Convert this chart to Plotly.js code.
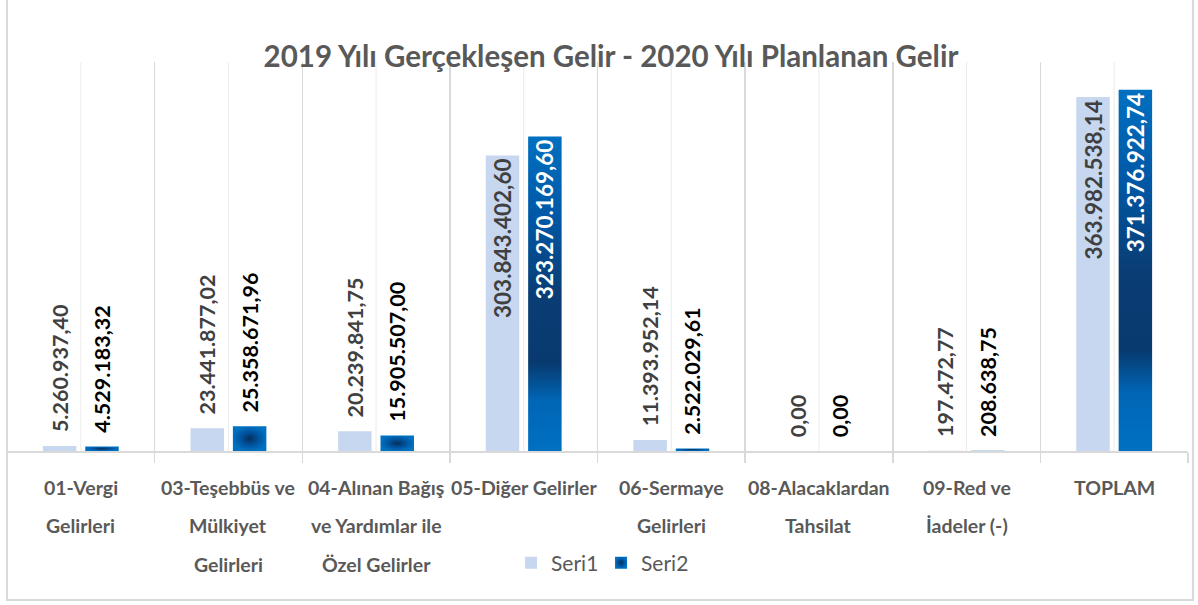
<!DOCTYPE html>
<html>
<head>
<meta charset="utf-8">
<script src="https://cdn.plot.ly/plotly-3.0.1.min.js"></script>
<style>
  html, body { margin: 0; padding: 0; background: #ffffff; }
  #wrap { position: relative; width: 1198px; height: 605px; overflow: hidden; }
  #chart { width: 1198px; height: 605px; }
  #frame { position: absolute; left: 6px; top: -10px; width: 1188px; height: 611px;
           box-sizing: border-box; border: 2px solid #d9d9d9; pointer-events: none; }
</style>
</head>
<body>
<div id="wrap">
  <div id="chart"></div>
  <div id="frame"></div>
</div>
<script>
// ---- data ----
const categories = [
  "01-Vergi Gelirleri",
  "03-Teşebbüs ve Mülkiyet Gelirleri",
  "04-Alınan Bağış ve Yardımlar ile Özel Gelirler",
  "05-Diğer Gelirler",
  "06-Sermaye Gelirleri",
  "08-Alacaklardan Tahsilat",
  "09-Red ve İadeler (-)",
  "TOPLAM"
];
const categoryLines = [
  ["01-Vergi", "Gelirleri"],
  ["03-Teşebbüs ve", "Mülkiyet", "Gelirleri"],
  ["04-Alınan Bağış", "ve Yardımlar ile", "Özel Gelirler"],
  ["05-Diğer Gelirler"],
  ["06-Sermaye", "Gelirleri"],
  ["08-Alacaklardan", "Tahsilat"],
  ["09-Red ve", "İadeler (-)"],
  ["TOPLAM"]
];
const seriesNames = ["Seri1", "Seri2"];
const seri1 = [5260937.40, 23441877.02, 20239841.75, 303843402.60, 11393952.14, 0.00, 197472.77, 363982538.14];
const seri2 = [4529183.32, 25358671.96, 15905507.00, 323270169.60, 2522029.61, 0.00, 208638.75, 371376922.74];
const chartTitle = "2019 Yılı Gerçekleşen Gelir - 2020 Yılı Planlanan Gelir";

// ---- chart ----
const FONT = "Lato, 'Open Sans', sans-serif";
const Y_MAX = 400000000;
const INSIDE_MIN = 100000000;

function positions(vals) {
  return vals.map(v => v >= INSIDE_MIN ? "inside" : "outside");
}
function templates(vals) {
  // outside labels sit a little above the bar end
  return vals.map(v => v >= INSIDE_MIN ? "%{y:,.2f}" : "\u2002%{y:,.2f}");
}

const traceCommon = {
  type: "bar",
  x: categories,
  textangle: -90,
  insidetextanchor: "end",
  constraintext: "none",
  cliponaxis: false,
  hoverinfo: "skip"
};

const t1 = Object.assign({}, traceCommon, {
  name: seriesNames[0],
  y: seri1,
  texttemplate: templates(seri1),
  textposition: positions(seri1),
  marker: { color: "#c6d7ef", line: { width: 0 } },
  insidetextfont: { family: FONT, size: 22.5, color: "#404040", weight: 700 },
  outsidetextfont: { family: FONT, size: 21.5, color: "#404040", weight: 700 }
});
const t2 = Object.assign({}, traceCommon, {
  name: seriesNames[1],
  y: seri2,
  texttemplate: templates(seri2),
  textposition: positions(seri2),
  marker: { color: "#0070c0", line: { width: 0 } },
  insidetextfont: { family: FONT, size: 22.5, color: "#ffffff", weight: 700 },
  outsidetextfont: { family: FONT, size: 21.5, color: "#000000", weight: 700 }
});

const PLOT_TOP = 62, PLOT_BOTTOM = 451;
const plotH = PLOT_BOTTOM - PLOT_TOP;
const lineY0 = 487, lineStep = 38.5;

const annotations = [];
categoryLines.forEach((lines, i) => {
  lines.forEach((ln, j) => {
    annotations.push({
      x: categories[i], xref: "x",
      y: (PLOT_BOTTOM - (lineY0 + j * lineStep)) / plotH, yref: "paper",
      yanchor: "middle", xanchor: "center",
      text: ln, showarrow: false,
      font: { family: FONT, size: 19.5, color: "#595959", weight: 700 }
    });
  });
});

const shapes = categories.map(c => ({
  type: "line", xref: "x", yref: "paper",
  x0: c, x1: c, y0: 0, y1: 1,
  line: { color: "#ebebeb", width: 1 },
  layer: "below"
}));

const layout = {
  width: 1198, height: 605,
  paper_bgcolor: "#ffffff", plot_bgcolor: "#ffffff",
  margin: { l: 7, r: 10, t: PLOT_TOP, b: 605 - PLOT_BOTTOM, pad: 0 },
  separators: ",.",
  font: { family: FONT, color: "#595959" },
  title: {
    text: chartTitle,
    font: { family: FONT, size: 29.5, color: "#595959", weight: 700 },
    xref: "container", x: 0.51, xanchor: "center",
    yref: "container", y: 1 - 57 / 605, yanchor: "middle"
  },
  barmode: "group",
  bargap: 0.426,
  bargroupgap: 0.21,
  showlegend: true,
  legend: {
    orientation: "h", x: 0.503, xanchor: "center",
    y: (PLOT_BOTTOM - 563) / plotH, yanchor: "middle",
    font: { family: FONT, size: 21, color: "#595959" },
    entrywidth: 45, entrywidthmode: "pixels",
    bgcolor: "rgba(0,0,0,0)"
  },
  xaxis: {
    type: "category",
    categoryorder: "array", categoryarray: categories,
    range: [-0.5, categories.length - 0.5],
    tickson: "boundaries",
    ticks: "outside", ticklen: 10, tickwidth: 1.5, tickcolor: "#d9d9d9",
    showgrid: true, gridcolor: "#d9d9d9", gridwidth: 1.5,
    showline: true, linecolor: "#d9d9d9", linewidth: 2,
    showticklabels: false,
    fixedrange: true
  },
  yaxis: {
    range: [0, Y_MAX],
    visible: false,
    showgrid: false, zeroline: false,
    fixedrange: true
  },
  annotations: annotations,
  shapes: shapes
};

Plotly.newPlot("chart", [t1, t2], layout, { displayModeBar: false, staticPlot: true }).then(gd => {
  const svg = gd.querySelector("svg.main-svg");
  const NS = "http://www.w3.org/2000/svg";
  let defs = svg.querySelector("defs");
  if (!defs) { defs = document.createElementNS(NS, "defs"); svg.insertBefore(defs, svg.firstChild); }
  defs.insertAdjacentHTML("beforeend",
    '<linearGradient xmlns="http://www.w3.org/2000/svg" id="s2lin" x1="0" y1="0" x2="0" y2="1">' +
      '<stop offset="0" stop-color="#0070c0"/>' +
      '<stop offset="0.25" stop-color="#0058a6"/>' +
      '<stop offset="0.5" stop-color="#0a3d74"/>' +
      '<stop offset="0.72" stop-color="#083a6f"/>' +
      '<stop offset="0.84" stop-color="#0066b6"/>' +
      '<stop offset="1" stop-color="#0070c0"/>' +
    '</linearGradient>' +
    '<radialGradient xmlns="http://www.w3.org/2000/svg" id="s2rad" cx="0.5" cy="0.5" r="0.5">' +
      '<stop offset="0" stop-color="#062f5a"/>' +
      '<stop offset="0.55" stop-color="#0054a0"/>' +
      '<stop offset="1" stop-color="#0070c0"/>' +
    '</radialGradient>');
  const traces = gd.querySelectorAll(".barlayer .trace");
  if (traces[1]) {
    traces[1].querySelectorAll(".point path").forEach(p => {
      const bb = p.getBBox();
      p.style.fill = bb.height > 100 ? "url(#s2lin)" : "url(#s2rad)";
    });
  }
  const legendTraces = gd.querySelectorAll(".legend .traces");
  if (legendTraces[1]) {
    legendTraces[1].querySelectorAll(".legendpoints path").forEach(p => { p.style.fill = "url(#s2rad)"; });
  }
});
</script>
</body>
</html>
